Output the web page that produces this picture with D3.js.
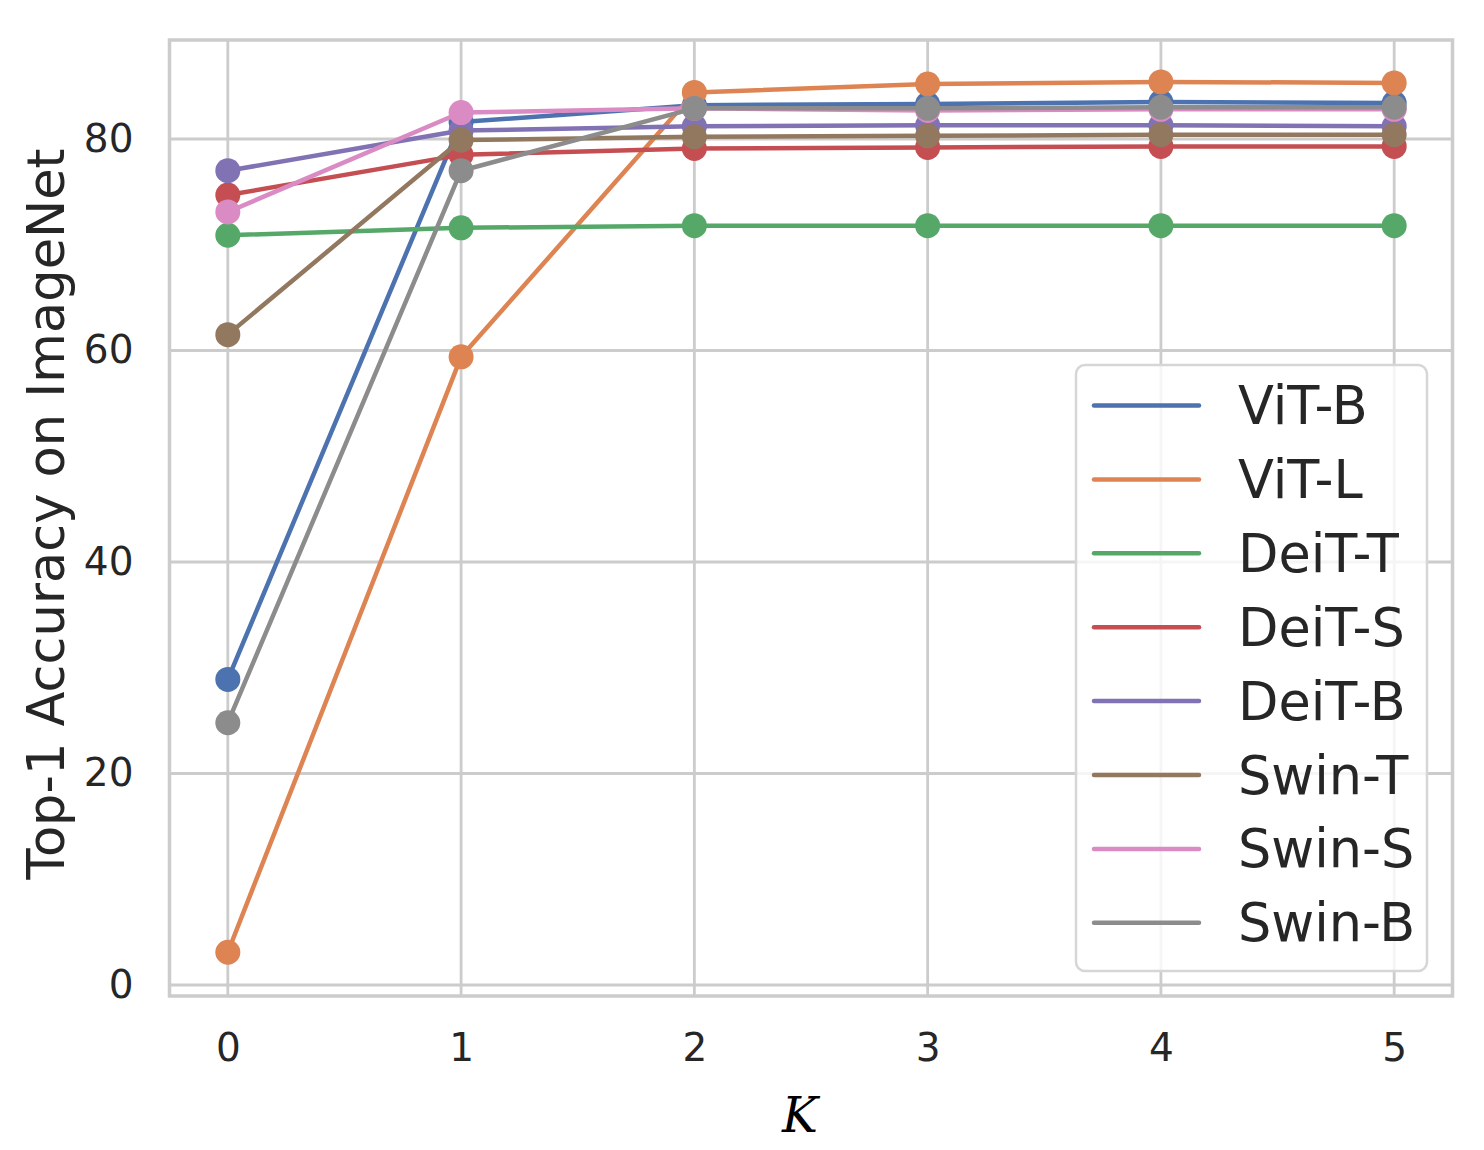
<!DOCTYPE html>
<html>
<head>
<meta charset="utf-8">
<script src="https://cdn.jsdelivr.net/npm/d3@7"></script>
<style>
  body { margin: 0; background: #fff; }
  text { font-family: "DejaVu Sans", sans-serif; fill: #262626; }
</style>
</head>
<body>
<div id="chart"></div>
<script>
// data
const kValues = [0, 1, 2, 3, 4, 5];
const models = ['ViT-B', 'ViT-L', 'DeiT-T', 'DeiT-S', 'DeiT-B', 'Swin-T', 'Swin-S', 'Swin-B'];
const vitB  = [28.9, 81.6, 83.2, 83.3, 83.5, 83.4];
const vitL  = [3.1, 59.4, 84.4, 85.2, 85.4, 85.3];
const deitT = [70.9, 71.6, 71.8, 71.8, 71.8, 71.8];
const deitS = [74.7, 78.5, 79.1, 79.2, 79.3, 79.3];
const deitB = [77.0, 80.8, 81.2, 81.3, 81.3, 81.2];
const swinT = [61.5, 79.9, 80.2, 80.3, 80.4, 80.4];
const swinS = [73.1, 82.5, 82.9, 82.7, 82.8, 82.8];
const swinB = [24.8, 77.0, 82.9, 82.9, 83.0, 83.0];
const yTicks = [0, 20, 40, 60, 80];
const colors = ['#4C72B0', '#DD8452', '#55A868', '#C44E52', '#8172B3', '#937860', '#DA8BC3', '#8C8C8C'];

const series = [vitB, vitL, deitT, deitS, deitB, swinT, swinS, swinB]
  .map((vals, i) => ({ name: models[i], color: colors[i], values: vals }));

const width = 1484;
const height = 1150;
const plot = { left: 169.5, right: 1452.5, top: 40, bottom: 996 };
const grey = '#cccccc';

const svg = d3.select('#chart')
  .append('svg')
  .attr('width', width)
  .attr('height', height);

const x = d3.scaleLinear()
  .domain([-0.25, 5.25])
  .range([plot.left, plot.right]);

const y = d3.scaleLinear()
  .domain([-1.04, 89.36])
  .range([plot.bottom, plot.top]);

// grid
svg.append('g')
  .selectAll('line.vgrid')
  .data(kValues)
  .join('line')
  .attr('x1', d => x(d)).attr('x2', d => x(d))
  .attr('y1', plot.top).attr('y2', plot.bottom)
  .attr('stroke', grey).attr('stroke-width', 2.8);

svg.append('g')
  .selectAll('line.hgrid')
  .data(yTicks)
  .join('line')
  .attr('x1', plot.left).attr('x2', plot.right)
  .attr('y1', d => y(d)).attr('y2', d => y(d))
  .attr('stroke', grey).attr('stroke-width', 2.8);

// frame
svg.append('rect')
  .attr('x', plot.left).attr('y', plot.top)
  .attr('width', plot.right - plot.left)
  .attr('height', plot.bottom - plot.top)
  .attr('fill', 'none')
  .attr('stroke', grey)
  .attr('stroke-width', 3.5);

// tick labels
const xAxis = svg.append('g')
  .attr('transform', `translate(0,${plot.bottom})`)
  .call(d3.axisBottom(x).tickValues(kValues).tickSize(0).tickPadding(37).tickFormat(d3.format('d')));
xAxis.select('.domain').remove();
xAxis.selectAll('text').style('font-size', '39px').attr('fill', '#262626');

const yAxis = svg.append('g')
  .attr('transform', `translate(${plot.left},0)`)
  .call(d3.axisLeft(y).tickValues(yTicks).tickSize(0).tickPadding(36));
yAxis.select('.domain').remove();
yAxis.selectAll('text').style('font-size', '39px').attr('fill', '#262626');

// axis titles
svg.append('text')
  .attr('x', 800)
  .attr('y', 1132)
  .attr('text-anchor', 'middle')
  .style('font-family', '"DejaVu Serif", serif')
  .style('font-style', 'italic')
  .style('font-size', '48px')
  .style('fill', '#000')
  .text('K');

svg.append('text')
  .attr('transform', `translate(64,${(plot.top + plot.bottom) / 2 - 4}) rotate(-90)`)
  .attr('text-anchor', 'middle')
  .style('font-size', '51px')
  .text('Top-1 Accuracy on ImageNet');

// lines + markers
const line = d3.line()
  .x((d, i) => x(kValues[i]))
  .y(d => y(d));

const groups = svg.append('g')
  .selectAll('g.series')
  .data(series)
  .join('g');

groups.append('path')
  .attr('d', d => line(d.values))
  .attr('fill', 'none')
  .attr('stroke', d => d.color)
  .attr('stroke-width', 4.5)
  .attr('stroke-linejoin', 'round')
  .attr('stroke-linecap', 'round');

groups.selectAll('circle')
  .data(d => d.values.map((v, i) => ({ k: kValues[i], v, color: d.color })))
  .join('circle')
  .attr('cx', d => x(d.k))
  .attr('cy', d => y(d.v))
  .attr('r', 12.5)
  .attr('fill', d => d.color);

// legend
const legend = svg.append('g').attr('transform', 'translate(1076,365)');
legend.append('rect')
  .attr('width', 351)
  .attr('height', 606)
  .attr('rx', 9)
  .attr('fill', 'rgba(255,255,255,0.8)')
  .attr('stroke', '#d6d6d6')
  .attr('stroke-width', 2.5);

const item = legend.selectAll('g.item')
  .data(series)
  .join('g')
  .attr('transform', (d, i) => `translate(0,${40.5 + i * 73.9})`);

item.append('line')
  .attr('x1', 18).attr('x2', 123)
  .attr('stroke', d => d.color)
  .attr('stroke-width', 4.5)
  .attr('stroke-linecap', 'round');

item.append('text')
  .attr('x', 162)
  .attr('y', 18.5)
  .style('font-size', '52.5px')
  .text(d => d.name);
</script>
</body>
</html>
